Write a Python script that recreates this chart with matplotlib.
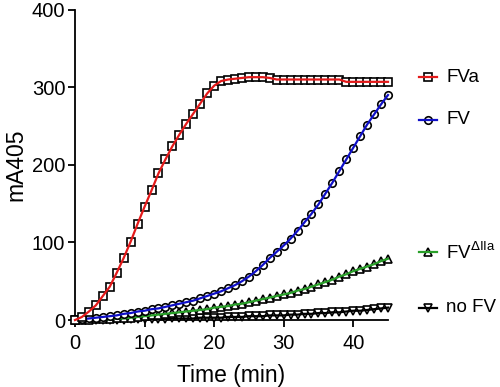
import numpy as np
import matplotlib
matplotlib.use('Agg')
import matplotlib.pyplot as plt
from matplotlib.lines import Line2D

plt.rcParams['font.family'] = ['Liberation Sans', 'DejaVu Sans']

# time points (min)
time = list(range(0, 46))

# mA405 readings
fva = [0, 4, 11, 19, 31, 43, 61, 80, 101, 124, 146, 167, 189, 207, 224, 239, 253, 266, 279, 292,
       302, 308, 310, 311, 312, 313, 313, 313, 312, 310, 310, 310, 310, 310, 310, 310, 310, 310, 310,
       307, 307, 307, 307, 307, 307, 307]
fv = [0, 1, 2, 3, 4, 5, 6, 8, 9, 11, 12, 14, 15, 17, 19, 21, 23, 25, 28, 31,
      34, 37, 41, 45, 50, 56, 63, 71, 80, 88, 96, 105, 115, 126, 137, 149, 163, 177, 192, 207,
      222, 237, 252, 265, 278, 290]
fv_d2a = [0, 0, 0, 1, 1, 1, 2, 2, 3, 4, 5, 6, 7, 8, 9, 10, 11, 12, 13, 14,
          16, 17, 18, 20, 21, 23, 25, 27, 29, 31, 33, 35, 38, 40, 43, 46, 49, 52, 56, 59,
          63, 66, 69, 72, 76, 79]
no_fv = [0, 0, 0, 0, 0, 0, 0, 0, 1, 1, 1, 1, 1, 1, 2, 2, 2, 2, 3, 3,
         3, 3, 4, 4, 4, 5, 5, 5, 6, 6, 6, 7, 7, 8, 8, 9, 9, 10, 10, 11,
         12, 12, 13, 14, 15, 16]

series = [
    ('FVa', fva, '#e41a1a', 's'),
    ('FV', fv, '#1010c8', 'o'),
    (r'FV$^{\Delta\mathregular{IIa}}$', fv_d2a, '#2aa02a', '^'),
    ('no FV', no_fv, '#000000', 'v'),
]

MS = 5.4
MEW = 1.2

fig = plt.figure(figsize=(5, 3.87), dpi=100)
ax = fig.add_axes([0.15, 0.173, 0.626, 0.802])

# markers first, connecting line drawn over them (line shows through the marker)
z = 3
for label, vals, color, marker in reversed(series):
    ax.plot(time, vals, linestyle='none', marker=marker, markersize=MS,
            markerfacecolor='white', markeredgecolor='black', markeredgewidth=MEW,
            clip_on=False, zorder=z)
    ax.plot(time, vals, color=color, linewidth=1.6, clip_on=False, zorder=z + 0.5)
    z += 1

ax.set_xlim(0, 45)
ax.set_ylim(0, 400)
ax.set_xticks([0, 10, 20, 30, 40])
ax.set_yticks([0, 100, 200, 300, 400])
ax.spines['top'].set_visible(False)
ax.spines['right'].set_visible(False)
for s in ['left', 'bottom']:
    ax.spines[s].set_linewidth(1.3)
ax.tick_params(axis='both', direction='out', length=5, width=1.3, labelsize=14.5)
ax.tick_params(axis='x', pad=5)
ax.tick_params(axis='y', pad=2)
ax.set_xlabel('Time (min)', fontsize=16.5, labelpad=8)
ax.set_ylabel('mA405', fontsize=16.5, labelpad=3)

# legend placed by hand, as in the original
leg_y = [77, 120, 252, 308]
for (label, vals, color, marker), py in zip(series, leg_y):
    fy = 1 - py / 387
    fig.add_artist(Line2D([428 / 500], [fy], transform=fig.transFigure, marker=marker,
                          markersize=MS, markerfacecolor='white', markeredgecolor='black',
                          markeredgewidth=MEW, linestyle='none'))
    fig.add_artist(Line2D([419 / 500, 437 / 500], [fy, fy], transform=fig.transFigure,
                          color=color, linewidth=1.6))
    fig.text(446 / 500, fy, label, fontsize=13.5, va='center', ha='left')

fig.savefig('out.png', dpi=100)
